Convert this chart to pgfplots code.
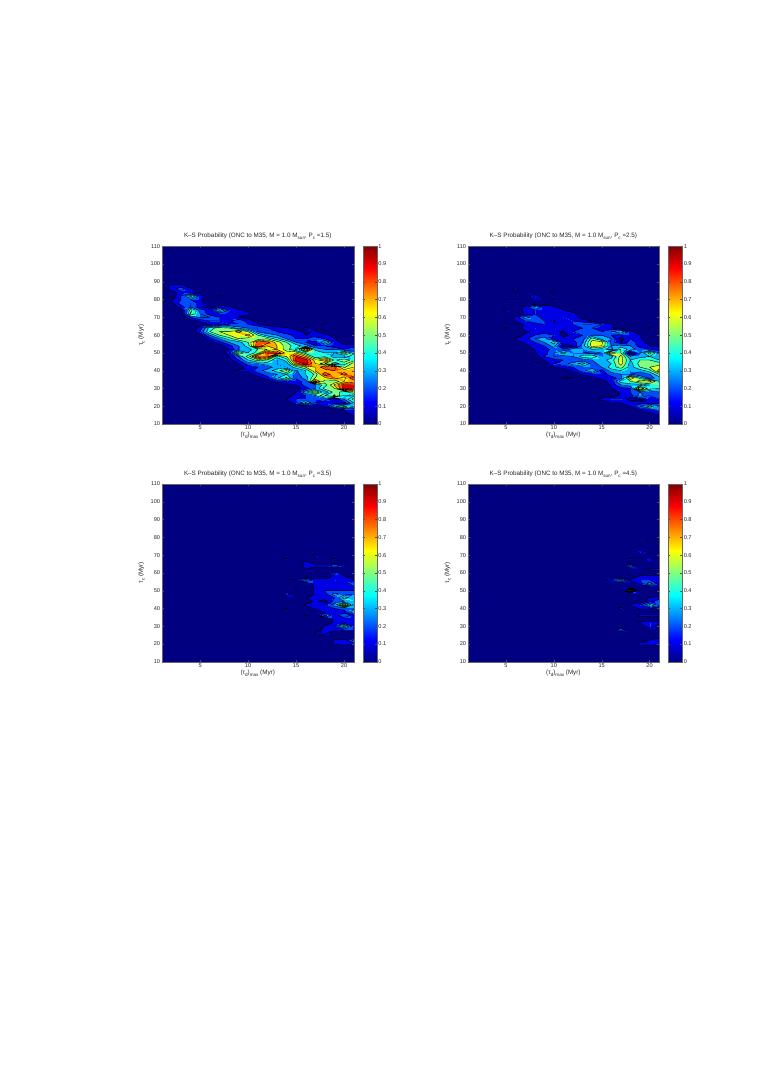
\documentclass[border=0pt]{standalone}
\usepackage{pgfplots}
\pgfplotsset{compat=1.18}
\usepackage{fontspec}
\setmainfont{Liberation Sans}
\makeatletter
\def\R#1#2{\def\curY{#1}\RR#2,=,}
\def\RR#1=#2,{\if\relax\detokenize{#1}\relax\else\expandafter\gdef\csname v\P:#1:\curY\endcsname{#2}\expandafter\RR\fi}
\def\V#1#2{\ifcsname v\P:#1:#2\endcsname\csname v\P:#1:#2\endcsname\else0\fi}
% ---------- panel A, P_c = 1.5 (x=value, value in percent)
\def\P{A}
\R{88}{2=12,3=15}
\R{86}{2=15,3=25,4=12}
\R{84}{2=5,3=14,4=12,5=5}
\R{82}{3=20,4=45,5=15,6=3,7=12}
\R{80}{2=10,3=20,4=20,5=12}
\R{78}{2=5,3=25,4=30,5=15}
\R{76}{3=15,4=30,5=12,6=5,7=15,8=12}
\R{74}{3=5,4=55,5=25,6=15,7=42,8=20,9=12,10=8}
\R{72}{3=5,4=50,5=30,6=15,7=15,8=12,9=10,10=12}
\R{70}{4=20,5=30,6=30,7=20,8=15,9=10,10=5}
\R{68}{4=5,5=12,6=20,7=20,8=15,9=28,10=15,11=5}
\R{66}{5=5,6=10,7=15,8=20,9=20,10=20,11=12,12=5,18=14}
\R{64}{5=15,6=45,7=55,8=50,9=35,10=30,11=30,12=20,13=15,14=12,15=5,16=12,17=5}
\R{62}{5=20,6=50,7=60,8=60,9=75,10=60,11=30,12=25,13=20,14=12,15=15,16=8,17=12}
\R{60}{5=5,6=30,7=50,8=60,9=60,10=75,11=50,12=35,13=30,14=25,15=15,16=10,17=12,18=15,19=5}
\R{58}{6=15,7=30,8=45,9=60,10=55,11=50,12=60,13=45,14=30,15=20,16=20,17=30,18=20,19=10}
\R{56}{6=5,7=15,8=30,9=35,10=50,11=85,12=85,13=65,14=50,15=30,16=20,17=15,18=42,19=15,20=5}
\R{54}{7=5,8=15,9=30,10=45,11=90,12=70,13=70,14=55,15=45,16=35,17=20,18=20,19=10,20=12,21=18}
\R{52}{8=10,9=30,10=35,11=50,12=60,13=70,14=55,15=38,16=80,17=38,18=30,19=30,20=20,21=25}
\R{50}{8=15,9=62,10=40,11=55,12=90,13=90,14=65,15=70,16=45,17=45,18=40,19=40,20=58,21=35}
\R{48}{8=10,9=30,10=55,11=90,12=85,13=45,14=60,15=90,16=70,17=42,18=48,19=35,20=30,21=50}
\R{46}{8=5,9=20,10=40,11=55,12=50,13=30,14=45,15=95,16=95,17=65,18=80,19=48,20=58,21=45}
\R{44}{9=10,10=25,11=30,12=35,13=30,14=35,15=75,16=95,17=70,18=50,19=35,20=45,21=65}
\R{42}{9=5,10=15,11=20,12=25,13=35,14=30,15=45,16=60,17=70,18=90,19=85,20=58,21=70}
\R{40}{8=7,9=12,10=12,11=25,12=35,13=45,14=62,15=28,16=40,17=70,18=72,19=80,20=75,21=80}
\R{38}{10=5,11=15,12=25,13=30,14=40,15=25,16=40,17=52,18=90,19=72,20=85,21=70}
\R{36}{11=5,12=15,13=38,14=52,15=22,16=35,17=60,18=68,19=80,20=65,21=92}
\R{34}{12=5,13=15,14=20,15=15,16=25,17=85,18=55,19=50,20=70,21=75}
\R{32}{14=5,15=10,16=25,17=30,18=45,19=72,20=95,21=95}
\R{30}{15=5,16=15,17=30,18=55,19=60,20=95,21=95}
\R{28}{15=10,16=38,17=62,18=32,19=55,20=45,21=60}
\R{26}{14=5,15=15,16=20,17=30,18=50,19=62,20=40,21=35}
\R{24}{14=10,15=20,16=20,17=20,18=25,19=12,20=30,21=55}
\R{22}{15=20,16=42,17=20,18=15,19=15,20=15,21=40}
\R{20}{18=12,19=38,20=52,21=45}
\R{18}{20=10,21=12}
\R{16}{20=7,21=14}
\R{14}{21=7}
% ---------- panel B, P_c = 2.5
\def\P{B}
\R{86}{6=15}
\R{84}{10=15}
\R{82}{8=22}
\R{80}{5=12,6=12,8=12,10=12}
\R{76}{7=13,8=32,9=16,10=13}
\R{74}{5=15,7=15,8=20,9=15,10=15,11=11}
\R{72}{7=12,8=20,9=15,10=15,11=15,12=16}
\R{70}{6=13,7=35,8=25,9=15,10=12,11=20,12=15,13=5}
\R{68}{6=11,7=20,8=25,9=20,10=9,11=15,12=20,13=15,14=7}
\R{66}{7=12,8=15,9=20,10=12,11=15,12=20,13=30,14=30,15=20,16=12}
\R{64}{5=13,7=15,8=20,9=12,10=12,11=15,12=15,13=20,14=20,15=15,16=12,20=13}
\R{62}{7=8,8=12,9=15,10=15,11=8,12=20,13=30,14=20,15=20,16=30,17=40,18=15}
\R{60}{6=5,7=12,8=20,9=25,10=20,11=5,12=15,13=20,14=30,15=30,16=20,17=15,18=15,19=10}
\R{58}{6=11,7=15,8=30,9=35,10=15,11=15,12=20,13=25,14=55,15=35,16=30,17=5,18=20,19=12}
\R{56}{6=6,7=12,8=20,9=30,10=45,11=15,12=15,13=30,14=65,15=65,16=25,17=10,18=25,19=15,20=5}
\R{54}{7=6,8=15,9=20,10=35,11=5,12=10,13=35,14=65,15=60,16=30,17=35,18=30,19=15,20=10,21=10}
\R{52}{8=11,9=15,10=25,11=20,12=35,13=30,14=40,15=35,16=25,17=50,18=35,19=25,20=20,21=15}
\R{50}{8=9,9=15,10=30,11=45,12=30,13=30,14=25,15=30,16=70,17=50,18=5,19=30,20=55,21=30}
\R{48}{9=20,10=30,11=25,12=30,13=45,14=50,15=30,16=35,17=65,18=30,19=35,20=40,21=30}
\R{46}{9=10,10=15,11=20,12=20,13=25,14=30,15=35,16=45,17=65,18=40,19=50,20=50,21=40}
\R{44}{8=15,10=20,11=25,12=35,13=45,14=25,15=35,16=40,17=65,18=35,19=55,20=55,21=55}
\R{42}{10=10,11=15,12=20,13=25,14=25,15=30,16=45,17=55,18=35,19=50,20=60,21=65}
\R{40}{12=12,13=25,14=40,15=15,16=35,17=40,18=30,19=35,20=45,21=75}
\R{38}{11=3,13=12,14=15,15=15,16=25,17=30,18=30,19=20,20=30,21=50}
\R{36}{11=12,12=12,14=8,15=12,16=15,17=25,18=70,19=45,20=25,21=35}
\R{34}{15=5,16=15,17=45,18=50,19=65,20=65,21=40}
\R{32}{16=12,17=30,18=35,19=35,20=40,21=50}
\R{30}{16=10,17=15,18=20,19=70,20=45,21=40}
\R{28}{17=12,18=20,19=30,20=20,21=30}
\R{26}{16=5,17=12,18=15,19=35,20=20,21=20}
\R{24}{15=15,16=20,17=20,18=5,19=5,20=15,21=20}
\R{22}{16=8,17=10,18=15,19=15,20=15,21=15}
\R{20}{18=10,19=30,20=45,21=35}
\R{18}{19=12,20=15,21=25}
\R{16}{20=8,21=15}
\R{14}{21=5}
% ---------- panel C, P_c = 3.5
\def\P{C}
\R{70}{17=15}
\R{68}{14=12,19=12}
\R{66}{16=14}
\R{64}{16=15,17=15,18=15,19=30,20=15}
\R{62}{16=10}
\R{60}{17=12,19=25}
\R{58}{19=15,20=10}
\R{56}{14=10,15=12,16=35,17=15,18=15,19=20,20=15,21=10}
\R{54}{17=15,18=15,19=12,20=12,21=30}
\R{52}{15=12,17=12,18=15,19=15,20=15,21=15}
\R{50}{17=12,18=20,19=20,20=20,21=20}
\R{48}{14=20,17=12,18=15,19=35,20=25,21=30}
\R{46}{16=10,17=15,18=15,19=20,20=45,21=35}
\R{44}{16=5,17=12,18=5,19=25,20=30,21=40}
\R{42}{16=12,17=15,18=20,19=35,20=68,21=30}
\R{40}{14=12,17=12,18=15,19=20,20=25,21=25}
\R{38}{18=12,19=15,20=15,21=38}
\R{36}{16=12,18=35,19=12,20=30,21=15}
\R{34}{19=12,20=12,21=15}
\R{32}{19=15,20=15,21=15}
\R{30}{18=12,19=20,20=45,21=15}
\R{28}{18=15,19=15,20=15,21=15}
\R{26}{17=12,18=15}
\R{22}{19=12,20=12,21=35}
\R{20}{19=12,20=15,21=12}
\R{16}{21=12}
% ---------- panel D, P_c = 4.5
\def\P{D}
\R{78}{20=15}
\R{72}{19=20}
\R{68}{18=12,19=5,20=15}
\R{66}{20=12}
\R{64}{18=32}
\R{62}{20=12,21=15}
\R{58}{19=12,20=12,21=12}
\R{56}{16=22,17=36,18=12,19=20,20=20,21=15}
\R{54}{19=15,20=36,21=15}
\R{50}{18=48}
\R{46}{20=12,21=15}
\R{44}{20=15,21=25}
\R{42}{18=12,19=20,20=42,21=25}
\R{40}{17=15,19=12,20=12}
\R{36}{19=15,20=15,21=12}
\R{32}{19=12,20=20,21=15}
\R{30}{20=20}
\R{28}{17=30}
\R{22}{20=12,21=20}
\R{20}{19=15,20=15,21=15}
% ---------- grid coordinates and contour segments, both from the values above
\newcount\Ix \newcount\J \newcount\L \newcount\a \newcount\b \newcount\c \newcount\d \newcount\Ixp \newcount\Jp
\def\Eb{(\strip@pt\dimexpr\Ix pt+1pt*\numexpr\L-\a\relax/\numexpr\b-\a\relax\relax,\the\J)}
\def\Et{(\strip@pt\dimexpr\Ix pt+1pt*\numexpr\L-\d\relax/\numexpr\c-\d\relax\relax,\the\Jp)}
\def\El{(\the\Ix,\strip@pt\dimexpr\J pt+2pt*\numexpr\L-\a\relax/\numexpr\d-\a\relax\relax)}
\def\Er{(\the\Ixp,\strip@pt\dimexpr\J pt+2pt*\numexpr\L-\b\relax/\numexpr\c-\b\relax\relax)}
\def\up#1{\ifnum#1<\L 0\else1\fi}
\def\S#1#2{#1#2(nan,nan)}
\def\buildpanel#1{%
  \def\P{#1}%
  \gdef\tmpgrid{}\gdef\tmpseg{}%
  \J=10 \@whilenum\J<111\do{%
    \Ix=1 \@whilenum\Ix<22\do{%
      \xdef\tmpitem{(\the\Ix,\the\J)[\V{\the\Ix}{\the\J}]}%
      \expandafter\g@addto@macro\expandafter\tmpgrid\expandafter{\tmpitem}%
      \advance\Ix 1 }%
    \advance\J 2 }%
  \J=10 \@whilenum\J<110\do{%
    \Jp=\J \advance\Jp 2
    \Ix=1 \@whilenum\Ix<21\do{%
      \Ixp=\Ix \advance\Ixp 1
      \a=\V{\the\Ix}{\the\J}\relax
      \b=\V{\the\Ixp}{\the\J}\relax
      \c=\V{\the\Ixp}{\the\Jp}\relax
      \d=\V{\the\Ix}{\the\Jp}\relax
      \ifnum\numexpr\a+\b+\c+\d\relax>0
      \L=10 \@whilenum\L<100\do{%
        \xdef\tmpitem{\ifcase\numexpr\up\a+2*\up\b+4*\up\c+8*\up\d\relax
           \or\S\El\Eb\or\S\Eb\Er\or\S\El\Er\or\S\Er\Et
           \or\S\El\Eb\S\Er\Et\or\S\Eb\Et\or\S\El\Et\or\S\Et\El
           \or\S\Eb\Et\or\S\Eb\Er\S\Et\El\or\S\Er\Et\or\S\El\Er
           \or\S\Eb\Er\or\S\El\Eb\fi}%
        \expandafter\g@addto@macro\expandafter\tmpseg\expandafter{\tmpitem}%
        \advance\L 10 }%
      \fi
      \advance\Ix 1 }%
    \advance\J 2 }%
  \global\expandafter\let\csname grid#1\endcsname\tmpgrid
  \global\expandafter\let\csname seg#1\endcsname\tmpseg
}
\buildpanel{A}\buildpanel{B}\buildpanel{C}\buildpanel{D}
\makeatother
\pgfplotsset{
  colormap={jetten}{rgb=(0,0,.5) rgb=(0,0,.9) rgb=(0,.3,1) rgb=(0,.7,1) rgb=(.1,1,.9)
                    rgb=(.5,1,.5) rgb=(.9,1,.1) rgb=(1,.7,0) rgb=(1,.3,0) rgb=(.9,0,0)},
  every tick/.style={black!70,line width=.2pt},
  tick align=inside, major tick length=1.9pt,
  axis line style={line width=.25pt,black!60},
  /pgf/number format/assume math mode=true,
  ticklabel style={font=\fontsize{5.6}{6}\selectfont,inner sep=0pt,text=black!85},
  every axis title shift=0pt,
}
\newcommand\sub[1]{\raisebox{-1.7pt}{\fontsize{4.6}{5}\selectfont #1}}
\newcommand\panel[5]{% key, left, bottom, width, Pc
  \begin{axis}[at={(#2pt,#3pt)},anchor=south west,scale only axis,width=#4pt,height=177.7pt,
    xmin=1,xmax=21,ymin=10,ymax=110,xtick={5,10,15,20},ytick={10,20,...,110},
    xticklabel style={yshift=-1.5pt},yticklabel style={xshift=-1.5pt},
    colormap name=jetten,point meta min=0,point meta max=100,
    title style={at={(axis description cs:0.5,1.055)},anchor=center,inner sep=0pt,text=black!85,font=\fontsize{6.3}{7}\selectfont},
    title={K–S Probability (ONC to M35, M = 1.0 M\sub{sun}, P\sub{c} =#5)},
    xlabel style={at={(axis description cs:0.5,-0.065)},anchor=center,inner sep=0pt,text=black!85,font=\fontsize{6.3}{7}\selectfont},
    xlabel={(τ\sub{d})\sub{max} (Myr)},
    ylabel style={at={(axis description cs:-0.105,0.5)},anchor=center,inner sep=0pt,text=black!85,font=\fontsize{6.3}{7}\selectfont},
    ylabel={τ\sub{c} (Myr)},
    axis on top]
    \expandafter\let\expandafter\thisgrid\csname grid#1\endcsname
    \expandafter\let\expandafter\thisseg\csname seg#1\endcsname
    \edef\temp{\noexpand\addplot[surf,shader=interp,colormap access=piecewise constant,point meta=explicit,mesh/cols=21,forget plot] coordinates {\thisgrid};}\temp
    \edef\temp{\noexpand\addplot[black,line width=.38pt,no markers,unbounded coords=jump,forget plot] coordinates {\thisseg};}\temp
  \end{axis}
  \begin{axis}[at={(#2pt+#4pt+9pt,#3pt)},anchor=south west,scale only axis,width=14pt,height=177.7pt,
    xmin=0,xmax=1,ymin=0,ymax=1,xtick=\empty,ytick={0,0.1,0.2,0.3,0.4,0.5,0.6,0.7,0.8,0.9,1},
    yticklabels={0,0.1,0.2,0.3,0.4,0.5,0.6,0.7,0.8,0.9,1},
    yticklabel pos=right,yticklabel style={xshift=1.5pt},
    colormap/jet,point meta min=0,point meta max=1,axis on top]
    \addplot[surf,shader=interp,point meta=y,mesh/cols=2,forget plot] coordinates {(0,0)(1,0)(0,1)(1,1)};
  \end{axis}
}
\begin{document}
\begin{tikzpicture}[x=1pt,y=1pt]
  \path (0,0) rectangle (763,1078);
  \panel{A}{161.7}{654}{192}{1.5}
  \panel{B}{467.7}{654}{191.4}{2.5}
  \panel{C}{161.7}{416.3}{192}{3.5}
  \panel{D}{467.7}{416.3}{191.4}{4.5}
\end{tikzpicture}
\end{document}
